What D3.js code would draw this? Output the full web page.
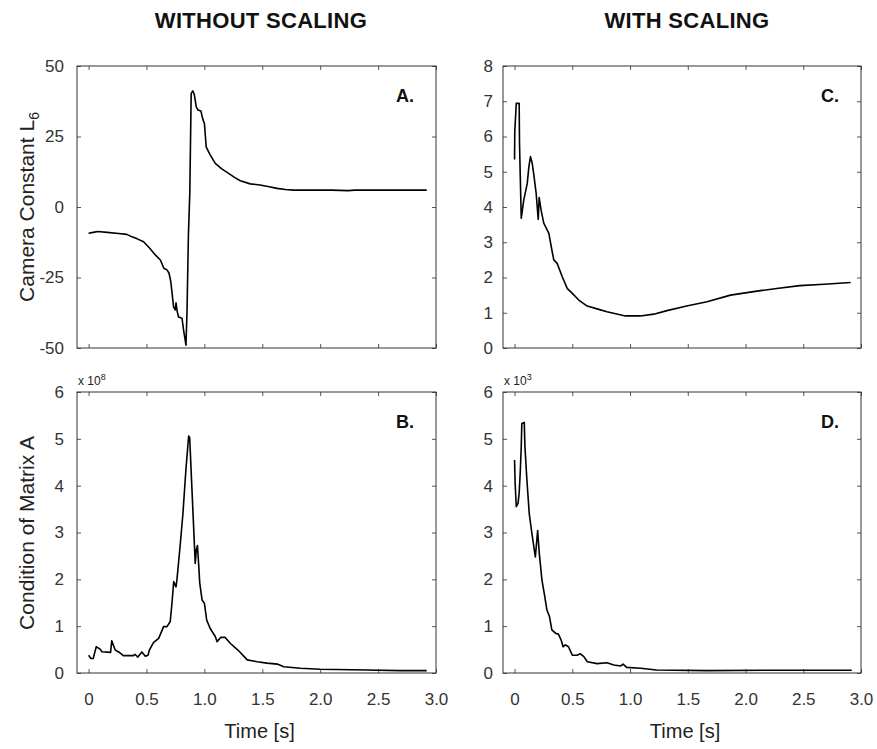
<!DOCTYPE html>
<html>
<head>
<meta charset="utf-8">
<script src="https://cdn.jsdelivr.net/npm/d3@7"></script>
<style>
  body { margin: 0; background: #fff; }
  text { font-family: Arial, "Liberation Sans", sans-serif; }
</style>
</head>
<body>
<div id="figure"></div>
<script>
// Panel A: camera constant, without scaling
const timeA = [0, 0.04, 0.08, 0.16, 0.26, 0.33, 0.37, 0.42, 0.475, 0.53, 0.576, 0.62, 0.65, 0.677, 0.695, 0.71, 0.734, 0.748, 0.755, 0.765, 0.777, 0.795, 0.807, 0.82, 0.841, 0.85, 0.862, 0.874, 0.886, 0.9, 0.912, 0.93, 0.945, 0.97, 0.988, 1.0, 1.016, 1.05, 1.094, 1.15, 1.209, 1.26, 1.31, 1.396, 1.48, 1.56, 1.627, 1.7, 1.77, 1.9, 2.1, 2.24, 2.3, 2.5, 2.7, 2.92];
const cameraA = [-9.3, -9.0, -8.7, -9.0, -9.4, -9.7, -10.5, -11.3, -12.3, -14.7, -17, -18.8, -21.7, -22.3, -23.5, -26.5, -35.4, -36.5, -34, -37, -39, -39.3, -39.5, -43.6, -49, -37, -10, 5, 40.3, 41.2, 40, 35.5, 34.4, 34, 30.9, 29.7, 21.2, 18.5, 15.5, 13.5, 11.9, 10.5, 9.3, 8.2, 7.8, 7.2, 6.6, 6.2, 6.0, 6.0, 6.0, 5.8, 6.0, 6.0, 6.0, 6.0];

// Panel B: condition of matrix A, without scaling (x 10^8)
const timeB = [0, 0.02, 0.04, 0.066, 0.1, 0.115, 0.19, 0.2, 0.23, 0.26, 0.30, 0.387, 0.4, 0.425, 0.46, 0.49, 0.513, 0.525, 0.56, 0.605, 0.648, 0.677, 0.705, 0.72, 0.735, 0.755, 0.763, 0.79, 0.815, 0.84, 0.864, 0.873, 0.893, 0.921, 0.93, 0.94, 0.95, 0.96, 0.98, 1.0, 1.02, 1.05, 1.094, 1.11, 1.14, 1.18, 1.225, 1.27, 1.29, 1.37, 1.455, 1.54, 1.63, 1.685, 1.83, 2.0, 2.4, 2.69, 2.92];
const conditionB = [0.38, 0.31, 0.31, 0.56, 0.51, 0.455, 0.44, 0.69, 0.49, 0.45, 0.37, 0.37, 0.4, 0.34, 0.45, 0.36, 0.38, 0.49, 0.65, 0.74, 0.99, 0.99, 1.1, 1.49, 1.95, 1.84, 1.99, 2.7, 3.41, 4.33, 5.06, 5.03, 3.9, 2.34, 2.63, 2.72, 2.34, 1.92, 1.56, 1.49, 1.13, 0.95, 0.78, 0.67, 0.76, 0.76, 0.63, 0.53, 0.49, 0.28, 0.24, 0.21, 0.19, 0.135, 0.1, 0.08, 0.065, 0.05, 0.05];

// Panel C: camera constant, with scaling
const timeC = [0, 0.002, 0.015, 0.04, 0.043, 0.05, 0.058, 0.08, 0.11, 0.124, 0.138, 0.153, 0.167, 0.187, 0.205, 0.213, 0.23, 0.253, 0.297, 0.326, 0.34, 0.369, 0.413, 0.456, 0.5, 0.556, 0.629, 0.715, 0.8, 0.96, 1.09, 1.205, 1.32, 1.49, 1.667, 1.87, 2.07, 2.27, 2.47, 2.68, 2.91];
const cameraC = [5.35, 6.14, 6.94, 6.94, 5.81, 4.81, 3.68, 4.2, 4.67, 5.14, 5.43, 5.24, 4.91, 4.39, 3.65, 4.27, 3.91, 3.54, 3.25, 2.73, 2.5, 2.4, 2.02, 1.69, 1.55, 1.36, 1.19, 1.11, 1.03, 0.91, 0.91, 0.96, 1.06, 1.19, 1.31, 1.5, 1.6, 1.69, 1.77, 1.81, 1.86];

// Panel D: condition of matrix A, with scaling (x 10^3)
const timeD = [0, 0.005, 0.015, 0.03, 0.04, 0.05, 0.058, 0.063, 0.084, 0.09, 0.107, 0.127, 0.15, 0.18, 0.2, 0.214, 0.237, 0.257, 0.28, 0.303, 0.323, 0.354, 0.38, 0.404, 0.42, 0.44, 0.467, 0.5, 0.54, 0.57, 0.6, 0.63, 0.715, 0.8, 0.86, 0.92, 0.94, 0.97, 1.09, 1.23, 1.67, 2.25, 2.92];
const conditionD = [4.55, 4.05, 3.55, 3.62, 3.84, 4.33, 4.83, 5.33, 5.35, 4.83, 4.12, 3.41, 2.98, 2.48, 3.04, 2.56, 1.99, 1.7, 1.35, 1.2, 0.92, 0.85, 0.83, 0.7, 0.56, 0.6, 0.56, 0.38, 0.38, 0.41, 0.35, 0.24, 0.2, 0.22, 0.17, 0.15, 0.19, 0.12, 0.1, 0.065, 0.05, 0.06, 0.06];

// Tick values
const timeTicks = [0, 0.5, 1.0, 1.5, 2.0, 2.5, 3.0];
const cameraTicksA = [-50, -25, 0, 25, 50];
const cameraTicksC = [0, 1, 2, 3, 4, 5, 6, 7, 8];
const conditionTicks = [0, 1, 2, 3, 4, 5, 6];

const svg = d3.select("#figure")
    .append("svg")
    .attr("width", 877)
    .attr("height", 749);

// Column titles
svg.append("text")
    .attr("x", 261)
    .attr("y", 28)
    .attr("text-anchor", "middle")
    .style("font-size", "22px")
    .style("font-weight", "bold")
    .style("letter-spacing", "0.3px")
    .attr("fill", "#111")
    .text("WITHOUT SCALING");

svg.append("text")
    .attr("x", 687)
    .attr("y", 28)
    .attr("text-anchor", "middle")
    .style("font-size", "22px")
    .style("font-weight", "bold")
    .style("letter-spacing", "0.3px")
    .attr("fill", "#111")
    .text("WITH SCALING");

// Draw one boxed panel with inward ticks on all four sides
function drawPanel(p) {
    const w = p.right - p.left, h = p.bottom - p.top;
    const g = svg.append("g").attr("transform", `translate(${p.left},${p.top})`);

    const x = d3.scaleLinear().domain([-0.1, 3.0]).range([0, w]);
    const y = d3.scaleLinear().domain(p.yDomain).range([h, 0]);

    // bottom axis (labels only on the lower row)
    const bottom = g.append("g")
        .attr("transform", `translate(0,${h})`)
        .call(d3.axisBottom(x).tickValues(timeTicks).tickSizeInner(-4).tickSizeOuter(0).tickPadding(20)
            .tickFormat(d => p.xLabels ? (d === 0 ? "0" : d3.format(".1f")(d)) : ""));
    const top = g.append("g")
        .call(d3.axisTop(x).tickValues(timeTicks).tickSizeInner(-4).tickSizeOuter(0).tickFormat(""));
    const left = g.append("g")
        .call(d3.axisLeft(y).tickValues(p.yTicks).tickSizeInner(-4).tickSizeOuter(0).tickPadding(p.yPad)
            .tickFormat(d => String(d)));
    const right = g.append("g")
        .attr("transform", `translate(${w},0)`)
        .call(d3.axisRight(y).tickValues(p.yTicks).tickSizeInner(-4).tickSizeOuter(0).tickFormat(""));

    [bottom, top, left, right].forEach(a => {
        a.select(".domain").remove();
        a.selectAll(".tick line").attr("stroke", "#555");
        a.selectAll("text")
            .style("font-size", "17px")
            .attr("fill", "#333");
    });

    // frame
    g.append("rect")
        .attr("width", w)
        .attr("height", h)
        .attr("fill", "none")
        .attr("stroke", "#333")
        .attr("stroke-width", 1);

    // data line
    const line = d3.line()
        .x((d, i) => x(p.times[i]))
        .y(d => y(d));
    g.append("path")
        .datum(p.values)
        .attr("d", line)
        .attr("fill", "none")
        .attr("stroke", "#000")
        .attr("stroke-width", 1.6)
        .attr("stroke-linejoin", "round");

    // panel letter
    g.append("text")
        .attr("x", w - 22)
        .attr("y", 36)
        .attr("text-anchor", "end")
        .style("font-size", "18px")
        .style("font-weight", "bold")
        .attr("fill", "#111")
        .text(p.letter);

    // exponent note above the frame
    if (p.exponent) {
        const t = g.append("text")
            .attr("x", 1)
            .attr("y", -7)
            .style("font-size", "12px")
            .attr("fill", "#222");
        t.append("tspan").text("x 10");
        t.append("tspan").attr("dy", -5).style("font-size", "9px").text(p.exponent);
    }

    if (p.xLabels) {
        g.append("text")
            .attr("x", w / 2 + 3)
            .attr("y", h + 65)
            .attr("text-anchor", "middle")
            .style("font-size", "20px")
            .attr("fill", "#222")
            .text("Time [s]");
    }
}

drawPanel({ left: 77, right: 436, top: 66, bottom: 348, yDomain: [-50, 50], yTicks: cameraTicksA, yPad: 13,
    times: timeA, values: cameraA, letter: "A.", xLabels: false });
drawPanel({ left: 77, right: 436, top: 392, bottom: 673, yDomain: [0, 6], yTicks: conditionTicks, yPad: 13,
    times: timeB, values: conditionB, letter: "B.", xLabels: true, exponent: "8" });
drawPanel({ left: 503, right: 861, top: 66, bottom: 348, yDomain: [0, 8], yTicks: cameraTicksC, yPad: 10,
    times: timeC, values: cameraC, letter: "C.", xLabels: false });
drawPanel({ left: 503, right: 861, top: 392, bottom: 673, yDomain: [0, 6], yTicks: conditionTicks, yPad: 10,
    times: timeD, values: conditionD, letter: "D.", xLabels: true, exponent: "3" });

// Y axis titles
const camLabel = svg.append("text")
    .attr("transform", "translate(34,207) rotate(-90)")
    .attr("text-anchor", "middle")
    .style("font-size", "21px")
    .attr("fill", "#222");
camLabel.append("tspan").text("Camera Constant L");
camLabel.append("tspan").attr("dy", 5).style("font-size", "14px").text("6");

svg.append("text")
    .attr("transform", "translate(34,533) rotate(-90)")
    .attr("text-anchor", "middle")
    .style("font-size", "21px")
    .attr("fill", "#222")
    .text("Condition of Matrix A");
</script>
</body>
</html>
